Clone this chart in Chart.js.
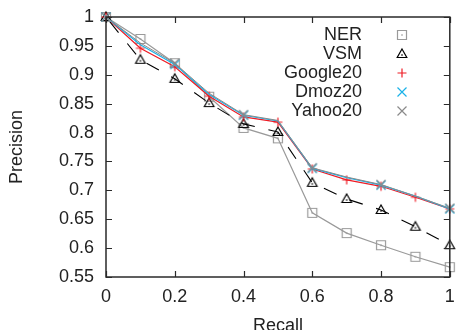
<!DOCTYPE html>
<html>
<head>
<meta charset="utf-8">
<script src="https://cdn.jsdelivr.net/npm/chart.js@4.4.1/dist/chart.umd.min.js"></script>
<style>
  html, body { margin: 0; padding: 0; background: #fff; }
  #wrap { width: 456px; height: 330px; position: relative; }
</style>
</head>
<body>
<div id="wrap"><canvas id="c" width="456" height="330"></canvas></div>
<script>
// ---- data ----
const recall   = [0, 0.1, 0.2, 0.3, 0.4, 0.5, 0.6, 0.7, 0.8, 0.9, 1.0];
const ner      = [1.000, 0.962, 0.920, 0.862, 0.808, 0.790, 0.661, 0.626, 0.605, 0.585, 0.567];
const vsm      = [1.000, 0.926, 0.893, 0.851, 0.815, 0.801, 0.713, 0.685, 0.666, 0.637, 0.605];
const google20 = [1.000, 0.946, 0.914, 0.863, 0.827, 0.818, 0.737, 0.718, 0.707, 0.688, 0.668];
const dmoz20   = [1.000, 0.952, 0.918, 0.866, 0.830, 0.820, 0.738, 0.722, 0.709, 0.690, 0.668];
const yahoo20  = [1.000, 0.955, 0.920, 0.868, 0.831, 0.821, 0.739, 0.723, 0.710, 0.690, 0.669];
const seriesNames = ['NER', 'VSM', 'Google20', 'Dmoz20', 'Yahoo20'];
const xTicks = [0, 0.2, 0.4, 0.6, 0.8, 1];
const yTicks = [0.55, 0.6, 0.65, 0.7, 0.75, 0.8, 0.85, 0.9, 0.95, 1];
const xTickLabels = ['0', '0.2', '0.4', '0.6', '0.8', '1'];
const yTickLabels = ['0.55', '0.6', '0.65', '0.7', '0.75', '0.8', '0.85', '0.9', '0.95', '1'];

const FONT = '"Liberation Sans", Arial, sans-serif';

// ---- marker images ----
function makeMarker(kind, color) {
  const c = document.createElement('canvas');
  c.width = 16; c.height = 16;
  const g = c.getContext('2d');
  g.strokeStyle = color; g.fillStyle = color; g.lineWidth = 1.2;
  const m = 8;
  g.beginPath();
  if (kind === 'box') {
    g.rect(m - 4.5, m - 4.5, 9, 9);
    g.stroke();
    g.fillRect(m - 0.7, m - 0.7, 1.4, 1.4);
  } else if (kind === 'tri') {
    g.moveTo(m, m - 5); g.lineTo(m + 4.8, m + 3.5); g.lineTo(m - 4.8, m + 3.5); g.closePath();
    g.stroke();
    g.fillRect(m - 0.7, m + 0.3, 1.4, 1.4);
  } else if (kind === 'plus') {
    g.moveTo(m - 4.5, m); g.lineTo(m + 4.5, m);
    g.moveTo(m, m - 4.5); g.lineTo(m, m + 4.5);
    g.stroke();
  } else if (kind === 'x') {
    g.moveTo(m - 4.5, m - 4.5); g.lineTo(m + 4.5, m + 4.5);
    g.moveTo(m + 4.5, m - 4.5); g.lineTo(m - 4.5, m + 4.5);
    g.stroke();
  }
  return c;
}
const colors = ['#9a9a9a', '#000000', '#ee1c25', '#1ab2e8', '#8a8a8a'];
const markers = [
  makeMarker('box', colors[0]),
  makeMarker('tri', colors[1]),
  makeMarker('plus', colors[2]),
  makeMarker('x', colors[3]),
  makeMarker('x', colors[4])
];

function pts(arr) { return recall.map((r, i) => ({ x: r, y: arr[i] })); }

const everyOther = (ctx) => (ctx.dataIndex % 2 === 0 ? 5 : 0);

const datasets = [
  { label: seriesNames[0], data: pts(ner), borderColor: colors[0], borderWidth: 1.2, pointStyle: markers[0], pointRadius: 5, order: 4 },
  { label: seriesNames[1], data: pts(vsm), borderColor: colors[1], borderWidth: 1.1, borderDash: [14, 14], borderDashOffset: -6, pointStyle: markers[1], pointRadius: 5, order: 3 },
  { label: seriesNames[2], data: pts(google20), borderColor: colors[2], borderWidth: 1.2, pointStyle: markers[2], pointRadius: 5, order: 2 },
  { label: seriesNames[3], data: pts(dmoz20), borderColor: colors[3], borderWidth: 1.2, pointStyle: markers[3], pointRadius: everyOther, order: 1 },
  { label: seriesNames[4], data: pts(yahoo20), borderColor: colors[4], borderWidth: 1.0, pointStyle: markers[4], pointRadius: everyOther, order: 0 }
];
datasets.forEach(d => { d.fill = false; d.tension = 0; d.pointHoverRadius = 5; d.clip = 8; });

// ---- frame + inward ticks + legend ----
const framePlugin = {
  id: 'frame',
  afterDraw(chart) {
    const ctx = chart.ctx, a = chart.chartArea;
    const xs = chart.scales.x, ys = chart.scales.y;
    ctx.save();
    ctx.strokeStyle = '#2a2a2a';
    ctx.lineWidth = 1.5;
    ctx.strokeRect(a.left, a.top, a.right - a.left, a.bottom - a.top);
    ctx.lineWidth = 1.2;
    ctx.beginPath();
    xTicks.forEach(v => {
      const px = Math.round(xs.getPixelForValue(v)) + 0.5;
      ctx.moveTo(px, a.bottom); ctx.lineTo(px, a.bottom - 6);
      ctx.moveTo(px, a.top); ctx.lineTo(px, a.top + 6);
    });
    yTicks.forEach(v => {
      const py = Math.round(ys.getPixelForValue(v)) + 0.5;
      ctx.moveTo(a.left, py); ctx.lineTo(a.left + 6, py);
      ctx.moveTo(a.right, py); ctx.lineTo(a.right - 6, py);
    });
    ctx.stroke();

    // legend
    ctx.font = '18px ' + FONT;
    ctx.fillStyle = '#222';
    ctx.textAlign = 'right';
    ctx.textBaseline = 'middle';
    chart.data.datasets.forEach((d, i) => {
      const y = 35 + i * 19;
      ctx.fillText(d.label, 362, y);
      const img = markers[i];
      ctx.drawImage(img, 402 - img.width / 2, y - img.height / 2);
    });
    ctx.restore();
  }
};

new Chart(document.getElementById('c'), {
  type: 'line',
  data: { datasets },
  options: {
    responsive: false,
    animation: false,
    devicePixelRatio: 1,
    layout: { padding: { top: 17, right: 4, left: 0, bottom: 0 } },
    plugins: { legend: { display: false }, tooltip: { enabled: false } },
    scales: {
      x: {
        type: 'linear', min: 0, max: 1,
        afterBuildTicks: (s) => { s.ticks = xTicks.map(v => ({ value: v })); },
        afterFit: (s) => { s.height = 53; s.paddingLeft = 0; s.paddingRight = 0; },
        grid: { display: false, drawTicks: false },
        border: { display: false },
        ticks: {
          padding: 9, color: '#222', font: { family: FONT, size: 18 },
          maxRotation: 0, autoSkip: false,
          callback: (v) => { const i = xTicks.indexOf(v); return i >= 0 ? xTickLabels[i] : ''; }
        },
        title: { display: true, text: 'Recall', color: '#222', font: { family: FONT, size: 18 }, padding: { top: 0, bottom: -7 } }
      },
      y: {
        type: 'linear', min: 0.55, max: 1,
        afterBuildTicks: (s) => { s.ticks = yTicks.map(v => ({ value: v })); },
        afterFit: (s) => { s.width = 106; s.paddingTop = 0; s.paddingBottom = 0; },
        grid: { display: false, drawTicks: false },
        border: { display: false },
        ticks: {
          padding: 12, color: '#222', font: { family: FONT, size: 18 }, autoSkip: false,
          callback: (v) => { const i = yTicks.findIndex(t => Math.abs(t - v) < 1e-9); return i >= 0 ? yTickLabels[i] : ''; }
        },
        title: { display: true, text: 'Precision', color: '#222', font: { family: FONT, size: 18 }, padding: { top: 6, bottom: 0 } }
      }
    }
  },
  plugins: [framePlugin]
});
</script>
</body>
</html>
